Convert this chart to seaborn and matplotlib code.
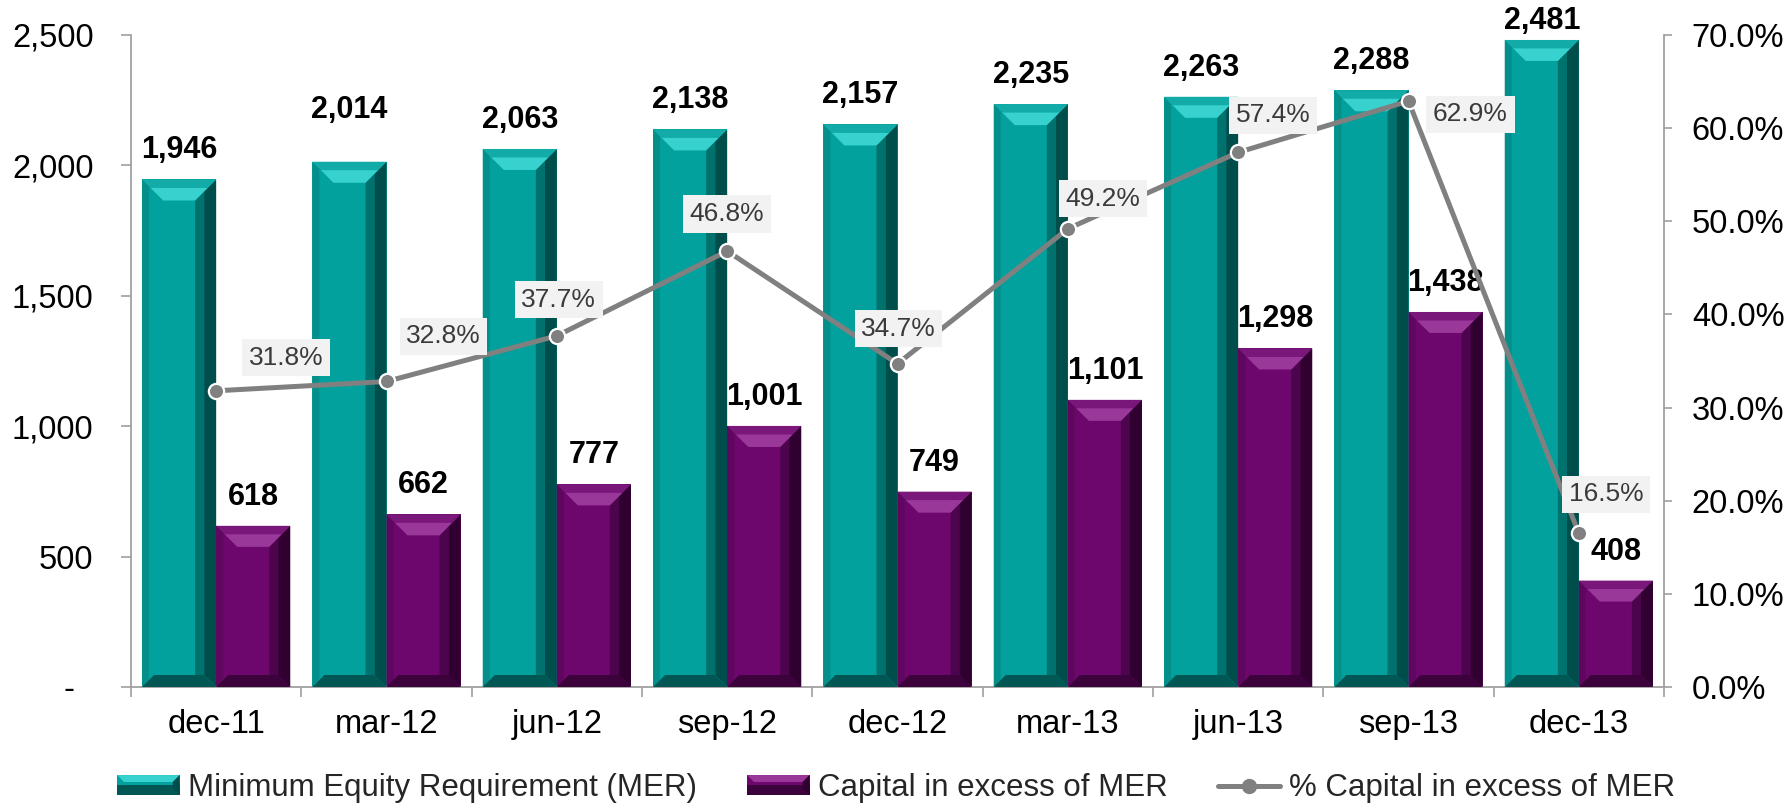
import numpy as np
import pandas as pd
import matplotlib
matplotlib.use("Agg")
import matplotlib.pyplot as plt
from matplotlib.patches import Polygon, Rectangle
from matplotlib.lines import Line2D
from matplotlib.legend_handler import HandlerBase
from matplotlib.ticker import FuncFormatter, MultipleLocator, FixedLocator
import seaborn as sns

# ---- data ---------------------------------------------------------------
periods = ["dec-11", "mar-12", "jun-12", "sep-12", "dec-12",
           "mar-13", "jun-13", "sep-13", "dec-13"]
min_equity = [1946, 2014, 2063, 2138, 2157, 2235, 2263, 2288, 2481]
excess_capital = [618, 662, 777, 1001, 749, 1101, 1298, 1438, 408]
excess_pct = [31.8, 32.8, 37.7, 46.8, 34.7, 49.2, 57.4, 62.9, 16.5]

series_names = ["Minimum Equity Requirement (MER)", "Capital in excess of MER"]
line_name = "% Capital in excess of MER"

# ---- styling ------------------------------------------------------------
TEAL = dict(face="#02A19D", top_hi="#38D2CE", top_lo="#12ABA7",
            right_out="#004E4C", right_in="#00726E", bottom="#005754",
            left="#058F8B")
PURPLE = dict(face="#6D066D", top_hi="#9A389A", top_lo="#7A177A",
              right_out="#300030", right_in="#4C044C", bottom="#3C023C",
              left="#5F065F")
LINE_GRAY = "#808080"
AXIS_GRAY = "#A0A0A0"

# offsets (pixels, y up) of the percentage boxes from their points
pct_label_offsets = [(70, 33), (57, 45), (2, 36), (0, 37), (1, 35),
                     (35, 30), (35, 37), (62, -13), (27, 39)]
# extra lift (pixels) for a few value labels
value_label_lift = {("MER", 1): 23, ("MER", 8): -10}

sns.set_theme(style="white")
plt.rcParams["font.family"] = ["Liberation Sans", "DejaVu Sans"]

fig = plt.figure(figsize=(17.87, 8.07), dpi=100)
ax = fig.add_axes([131 / 1787, 1 - 687 / 807,
                   (1664 - 131) / 1787, (687 - 35) / 807])

df = pd.DataFrame({
    "period": periods * 2,
    "value": min_equity + excess_capital,
    "series": [series_names[0]] * len(periods) + [series_names[1]] * len(periods),
})

sns.barplot(data=df, x="period", y="value", hue="series", ax=ax,
            palette=[TEAL["face"], PURPLE["face"]], saturation=1, width=0.87,
            linewidth=0, legend=False, zorder=2)

ax.set_xlim(-0.5, len(periods) - 0.5)
ax.set_ylim(0, 2500)
ax.set_xlabel("")
ax.set_ylabel("")

TICK_SIZE = 23.5

# left axis
ax.yaxis.set_major_locator(MultipleLocator(500))
ax.yaxis.set_major_formatter(FuncFormatter(
    lambda v, _: "-  " if v == 0 else f"{v:,.0f}"))
ax.tick_params(axis="y", which="major", length=7, width=1.2, color=AXIS_GRAY,
               pad=20, labelsize=TICK_SIZE, labelcolor="black", left=True)
# categories: labels centered, tick marks on boundaries
ax.set_xticks(range(len(periods)))
ax.set_xticklabels(periods)
ax.xaxis.set_minor_locator(FixedLocator(np.arange(-0.5, len(periods), 1.0)))
ax.tick_params(axis="x", which="major", length=0, pad=16, labelsize=TICK_SIZE,
               labelcolor="black")
ax.tick_params(axis="x", which="minor", length=7, width=1.2, color=AXIS_GRAY,
               bottom=True)
for side in ("top", "right"):
    ax.spines[side].set_visible(False)
for side in ("left", "bottom"):
    ax.spines[side].set_color(AXIS_GRAY)
    ax.spines[side].set_linewidth(1.3)
ax.grid(False)


def bevel(axis, patch, shades, b=21, s=12):
    """Overlay bevel facets on a bar, sized in screen pixels."""
    inv = axis.transData.inverted()
    x0, y0 = axis.transData.transform((patch.get_x(), patch.get_y()))
    x1, y1 = axis.transData.transform((patch.get_x() + patch.get_width(),
                                       patch.get_y() + patch.get_height()))
    k = 0.4
    facets = [
        (shades["left"], [(x0, y1), (x0 + 7, y1 - 7), (x0 + 7, y0 + 7), (x0, y0)]),
        (shades["right_in"], [(x1 - s, y1 - s), (x1 - b, y1 - b),
                              (x1 - b, y0 + s), (x1 - s, y0 + s)]),
        (shades["right_out"], [(x1, y1), (x1 - s, y1 - s),
                               (x1 - s, y0 + s), (x1, y0)]),
        (shades["bottom"], [(x0, y0), (x1, y0), (x1 - s, y0 + s), (x0 + s, y0 + s)]),
        (shades["top_lo"], [(x0, y1), (x1, y1),
                            (x1 - b * k, y1 - b * k), (x0 + b * k, y1 - b * k)]),
        (shades["top_hi"], [(x0 + b * k, y1 - b * k), (x1 - b * k, y1 - b * k),
                            (x1 - b, y1 - b), (x0 + b, y1 - b)]),
    ]
    for color, pts in facets:
        axis.add_patch(Polygon(inv.transform(np.array(pts, dtype=float)),
                               closed=True, facecolor=color, edgecolor="none",
                               zorder=3))


for container, shades, values, key in ((ax.containers[0], TEAL, min_equity, "MER"),
                                       (ax.containers[1], PURPLE, excess_capital, "EXC")):
    for i, (bar, val) in enumerate(zip(container.patches, values)):
        bevel(ax, bar, shades)
        lift = value_label_lift.get((key, i), 0)
        ax.annotate(f"{val:,.0f}",
                    xy=(bar.get_x() + bar.get_width() / 2, val),
                    xytext=(0, 14 + lift), textcoords="offset pixels",
                    ha="center", va="bottom", fontsize=22, fontweight="bold",
                    color="black", zorder=5)

# right axis with the percentage line
ax2 = ax.twinx()
positions = np.arange(len(periods))
sns.lineplot(x=positions, y=excess_pct, ax=ax2, color=LINE_GRAY,
             linewidth=3.6, marker="o", markersize=11,
             markerfacecolor=LINE_GRAY, markeredgecolor="white",
             markeredgewidth=1.6, zorder=6)
ax2.set_ylim(0, 70)
ax2.set_xlim(-0.5, len(periods) - 0.5)
ax2.yaxis.set_major_locator(MultipleLocator(10))
ax2.yaxis.set_major_formatter(FuncFormatter(lambda v, _: f"{v:.1f}%"))
ax2.tick_params(axis="y", length=6, width=1.2, color=AXIS_GRAY, pad=14,
                labelsize=TICK_SIZE, labelcolor="black", right=True)
for side in ("top", "left", "bottom"):
    ax2.spines[side].set_visible(False)
ax2.spines["right"].set_color(AXIS_GRAY)
ax2.spines["right"].set_linewidth(1.3)
ax2.grid(False)
ax2.set_ylabel("")

for x, pct, (dx, dy) in zip(positions, excess_pct, pct_label_offsets):
    ax2.annotate(f"{pct:.1f}%", xy=(x, pct), xytext=(dx, dy),
                 textcoords="offset pixels", ha="center", va="center",
                 fontsize=19, color="#3A3A3A", zorder=7,
                 bbox=dict(boxstyle="square,pad=0.25", facecolor="#F2F2F2",
                           edgecolor="none"))


class BevelHandler(HandlerBase):
    def __init__(self, shades):
        super().__init__()
        self.shades = shades

    def create_artists(self, legend, orig_handle, xdescent, ydescent,
                       width, height, fontsize, trans):
        x, y = -xdescent, -ydescent
        sh = self.shades
        d = height * 0.35
        arts = [
            Rectangle((x, y), width, height, facecolor=sh["face"], edgecolor="none"),
            Rectangle((x, y), width, height * 0.5, facecolor=sh["bottom"], edgecolor="none"),
            Polygon([(x, y + height), (x + width, y + height),
                     (x + width - d, y + height - d), (x + d, y + height - d)],
                    closed=True, facecolor=sh["top_hi"], edgecolor="none"),
            Polygon([(x + width, y + height), (x + width, y),
                     (x + width - d, y + d), (x + width - d, y + height - d)],
                    closed=True, facecolor=sh["right_out"], edgecolor="none"),
        ]
        for a in arts:
            a.set_transform(trans)
        return arts


h_mer = Rectangle((0, 0), 1, 1)
h_exc = Rectangle((0, 0), 1, 1)
h_pct = Line2D([], [], color=LINE_GRAY, linewidth=3.6, marker="o",
               markersize=10, markerfacecolor=LINE_GRAY,
               markeredgecolor=LINE_GRAY)
fig.legend([h_mer, h_exc, h_pct], [series_names[0], series_names[1], line_name],
           handler_map={h_mer: BevelHandler(TEAL), h_exc: BevelHandler(PURPLE)},
           loc="center", bbox_to_anchor=(0.5014, 1 - 788 / 807), ncol=3,
           frameon=False, fontsize=22.5, handlelength=2.0, handleheight=0.6,
           handletextpad=0.27, columnspacing=1.6, borderaxespad=0,
           borderpad=0)

fig.savefig("out.png", dpi=100, facecolor="white")
